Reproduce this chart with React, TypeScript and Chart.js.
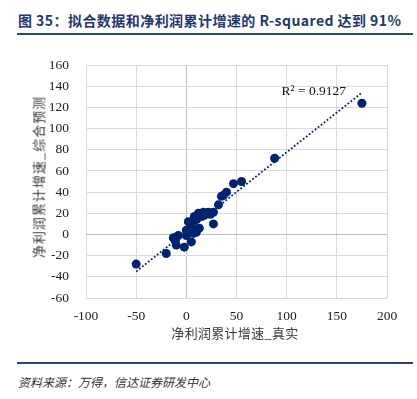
import React, { useEffect, useRef } from "react";
import { Chart, registerables } from "chart.js";

Chart.register(...registerables);

const actualX = [-50, -20, 175, 88, 55, 47, 40, 37, 35, 32, 27, 27, 22, 17, 12, 8, 2, 10, 7, 13, 0, 5, -2, -12, -8, -13, -10, 3, 15, 18, 10, 0, 7, 24, 5, -11];
const predictedY = [-28, -18, 124, 72, 50, 48, 40, 37, 36, 28, 21, 10, 21, 21, 20, 17, 12, 14, 6, 6, -1, -7, -12, -4, -1, -3, -10, 4, 17, 18, 2, 4, 1, 19, 9, -6];
const trendX = [-50, 175];
const trendY = [-35, 134];
const xTicks = [-100, -50, 0, 50, 100, 150, 200];
const yTicks = [-60, -40, -20, 0, 20, 40, 60, 80, 100, 120, 140, 160];
const rSquaredLabel = "R² = 0.9127";
const rLabelPos = { x: 127, y: 135 };

const titleText = "图 35：拟合数据和净利润累计增速的 R-squared 达到 91%";
const xTitle = "净利润累计增速_真实";
const yTitle = "净利润累计增速_综合预测";
const sourceText = "资料来源：万得，信达证券研发中心";

const NAVY = "#00236e";
const SERIF = "'Liberation Serif', 'Times New Roman', serif";

export default function App() {
  const ref = useRef<HTMLCanvasElement>(null);

  useEffect(() => {
    document.body.style.margin = "0";
    const canvas = ref.current;
    if (!canvas) return;
    const labelPlugin = {
      id: "rlabel",
      afterDatasetsDraw(chart: any) {
        const { ctx, scales } = chart;
        const px = scales.x.getPixelForValue(rLabelPos.x);
        const py = scales.y.getPixelForValue(rLabelPos.y);
        ctx.save();
        ctx.font = `13.5px ${SERIF}`;
        ctx.fillStyle = "#111";
        ctx.textAlign = "center";
        ctx.textBaseline = "middle";
        ctx.fillText(rSquaredLabel, px, py);
        ctx.restore();
      },
    };
    const chart = new Chart(canvas, {
      type: "scatter",
      data: {
        datasets: [
          {
            data: actualX.map((x, i) => ({ x, y: predictedY[i] })),
            backgroundColor: NAVY,
            borderColor: NAVY,
            pointRadius: 4.5,
            pointHoverRadius: 4.5,
            borderWidth: 0,
          },
          {
            data: trendX.map((x, i) => ({ x, y: trendY[i] })),
            showLine: true,
            borderColor: NAVY,
            borderWidth: 1.8,
            borderDash: [1.8, 2],
            pointRadius: 0,
            fill: false,
          } as any,
        ],
      },
      options: {
        animation: false,
        responsive: false,
        maintainAspectRatio: false,
        plugins: { legend: { display: false }, tooltip: { enabled: false } },
        layout: { padding: { left: 0, right: 30, top: 25, bottom: 0 } },
        scales: {
          x: {
            type: "linear",
            min: -100,
            max: 200,
            afterBuildTicks: (s: any) => {
              s.ticks = xTicks.map((v) => ({ value: v }));
            },
            afterFit: (s: any) => {
              s.height = 52;
            },
            grid: {
              color: (c: any) => (c.tick && c.tick.value === 0 ? "#bfbfbf" : "#d9d9d9"),
              drawTicks: false,
              lineWidth: 1,
            },
            border: { display: false },
            ticks: {
              padding: 10,
              color: "#222",
              font: { family: SERIF, size: 13.5 },
              maxRotation: 0,
            },
          },
          y: {
            type: "linear",
            min: -60,
            max: 160,
            afterBuildTicks: (s: any) => {
              s.ticks = yTicks.map((v) => ({ value: v }));
            },
            afterFit: (s: any) => {
              s.width = 86;
            },
            grid: {
              color: (c: any) => (c.tick && c.tick.value === 0 ? "#bfbfbf" : "#d9d9d9"),
              drawTicks: false,
              lineWidth: 1,
            },
            border: { display: false },
            ticks: {
              padding: 17,
              color: "#222",
              font: { family: SERIF, size: 13.5 },
            },
          },
        },
      },
      plugins: [labelPlugin],
    });
    return () => chart.destroy();
  }, []);

  return (
    <div style={{ position: "relative", width: 417, height: 399, background: "#fff", overflow: "hidden" }}>
      <div
        style={{
          position: "absolute",
          left: 18,
          top: 11,
          fontFamily: "'Noto Sans CJK SC', 'Liberation Sans', sans-serif",
          fontWeight: 700,
          fontSize: 14,
          color: "#22386a",
          whiteSpace: "pre",
          lineHeight: "18px",
          letterSpacing: 0.45,
        }}
      >
        {titleText}
      </div>
      <div style={{ position: "absolute", left: 17, top: 33, width: 396, height: 2, background: "#2d4677" }} />
      <canvas ref={ref} width={417} height={310} style={{ position: "absolute", left: 0, top: 40, width: 417, height: 310 }} />
      <div
        style={{
          position: "absolute",
          left: 235,
          top: 332,
          transform: "translate(-50%, -50%)",
          fontFamily: "'Noto Sans CJK SC', sans-serif",
          fontSize: 13,
          color: "#3a3a3a",
          whiteSpace: "nowrap",
          letterSpacing: 0.3,
        }}
      >
        {xTitle}
      </div>
      <div
        style={{
          position: "absolute",
          left: 38,
          top: 177,
          transform: "translate(-50%, -50%) rotate(-90deg)",
          fontFamily: "'Noto Sans CJK SC', sans-serif",
          fontSize: 13,
          color: "#3a3a3a",
          whiteSpace: "nowrap",
          letterSpacing: 1,
        }}
      >
        {yTitle}
      </div>
      <div style={{ position: "absolute", left: 17, top: 362, width: 396, height: 2, background: "#2d4677" }} />
      <div
        style={{
          position: "absolute",
          left: 18,
          top: 374,
          fontFamily: "'Noto Sans CJK SC', sans-serif",
          fontSize: 12,
          fontStyle: "italic",
          color: "#333",
          whiteSpace: "nowrap",
          lineHeight: "16px",
        }}
      >
        {sourceText}
      </div>
    </div>
  );
}
